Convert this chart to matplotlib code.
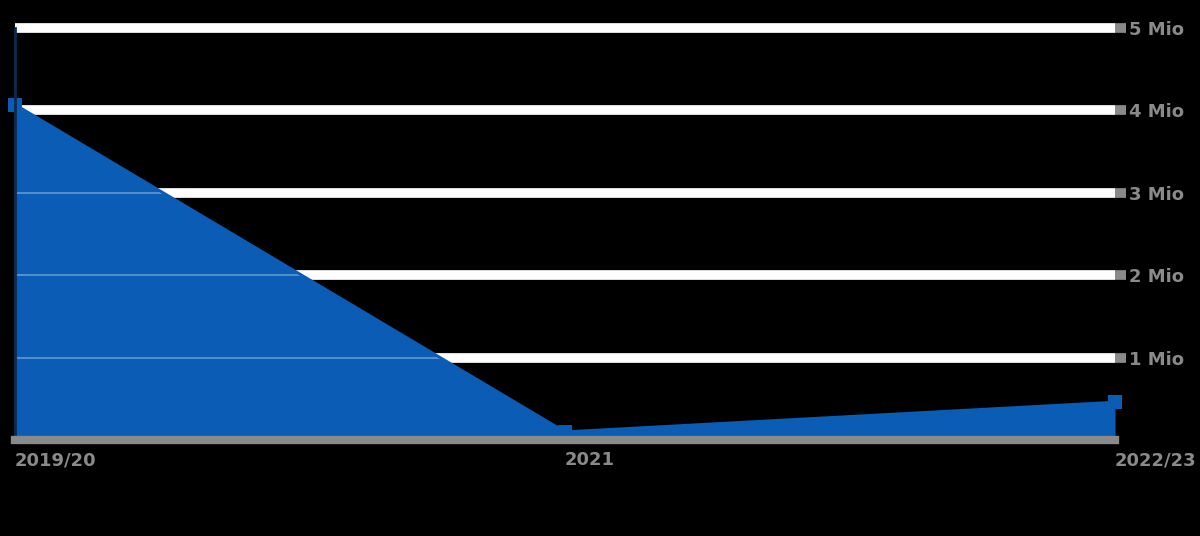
import matplotlib
matplotlib.use("Agg")
import matplotlib.pyplot as plt

categories = ["2019/20", "2021", "2022/23"]
values = [4.07, 0.10, 0.46]
y_ticks = [1, 2, 3, 4, 5]
y_labels = ["1 Mio", "2 Mio", "3 Mio", "4 Mio", "5 Mio"]

blue = "#0a5cb4"
gray = "#8a8a8a"

fig = plt.figure(figsize=(12, 5.36), dpi=100, facecolor="black")
ax = fig.add_axes([0.0125, 0.179, 0.9167, 0.769])
ax.set_facecolor("black")
x = list(range(len(categories)))
ax.set_xlim(0, len(categories) - 1)
ax.set_ylim(0, 5)

for t in y_ticks:
    ax.axhline(t, color="white", lw=7, zorder=1, solid_capstyle="butt", clip_on=False)
ax.fill_between(x, 0, values, color=blue, zorder=2, lw=0)
ax.plot(x, values, color=blue, lw=2, zorder=4, marker="s", markersize=10,
        markeredgewidth=0, clip_on=False)
for t in y_ticks:
    ax.axhline(t, color="white", lw=1.5, alpha=0.3, zorder=3)

for s in ["top", "right"]:
    ax.spines[s].set_visible(False)
ax.spines["left"].set_color("#0a2a55")
ax.spines["left"].set_linewidth(2)
ax.spines["left"].set_zorder(5)
ax.spines["bottom"].set_color(gray)
ax.spines["bottom"].set_linewidth(6)
ax.spines["bottom"].set_zorder(5)

ax.yaxis.tick_right()
ax.set_yticks(y_ticks)
ax.set_yticklabels(y_labels, color=gray, fontsize=13, fontweight="bold")
ax.tick_params(axis="y", length=8, width=7, color=gray, pad=2)
ax.set_xticks(x)
ax.set_xticklabels(categories, color=gray, fontsize=13, fontweight="bold", ha="left")
ax.tick_params(axis="x", length=0, pad=8)
for lbl in ax.get_xticklabels()[-1:]:
    lbl.set_horizontalalignment("left")

fig.savefig("out.png", dpi=100, facecolor="black")
